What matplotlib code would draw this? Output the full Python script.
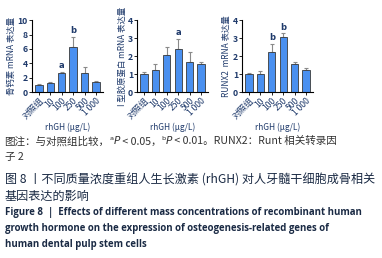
import matplotlib

matplotlib.use("Agg")
import matplotlib.pyplot as plt
from matplotlib.offsetbox import AnchoredOffsetbox, HPacker, TextArea

plt.rcParams["font.family"] = ["Noto Sans CJK SC", "DejaVu Sans"]

groups = ["对照组", "10", "100", "250", "500", "1 000"]

ocn_mean = [1.0, 1.2, 2.7, 6.2, 2.6, 1.4]
ocn_err = [0.1, 0.25, 0.15, 1.5, 0.9, 0.1]
ocn_sig = ["", "", "a", "b", "", ""]

col1_mean = [1.0, 1.25, 2.05, 2.37, 1.7, 1.55]
col1_err = [0.12, 0.3, 0.48, 0.6, 0.55, 0.1]
col1_sig = ["", "", "", "a", "", ""]

runx2_mean = [1.0, 1.0, 2.25, 3.07, 1.55, 1.22]
runx2_err = [0.08, 0.2, 0.45, 0.2, 0.13, 0.1]
runx2_sig = ["", "", "b", "b", "", ""]

panels = [
    ("骨钙素 mRNA 表达量", ocn_mean, ocn_err, ocn_sig, 10, [0, 2, 4, 6, 8, 10], 0.084),
    ("I 型胶原蛋白 mRNA 表达量", col1_mean, col1_err, col1_sig, 4, [0, 1, 2, 3, 4], 0.359),
    ("RUNX2  mRNA 表达量", runx2_mean, runx2_err, runx2_sig, 4, [0, 1, 2, 3, 4], 0.634),
]

BAR = "#4a90f0"
EDGE = "#3a3a3a"
ERR = "#8a8a8a"
INK = "#1f3a6b"

fig = plt.figure(figsize=(3.82, 2.58), dpi=100)

for ylabel, mean, err, sig, ymax, ticks, left in panels:
    ax = fig.add_axes([left, 0.643, 0.185, 0.279])
    x = list(range(len(groups)))
    ax.bar(x, mean, width=0.64, color=BAR, edgecolor=EDGE, linewidth=0.6, zorder=2)
    ax.errorbar(x, mean, yerr=[[0] * len(err), err], fmt="none", ecolor=ERR,
                elinewidth=0.8, capsize=1.5, capthick=0.8, zorder=1)
    for xi, m, e, s in zip(x, mean, err, sig):
        if s:
            ax.text(xi, m + e + ymax * 0.02, s, ha="center", va="bottom",
                    fontsize=6, fontweight="bold", color=INK,
                    family="DejaVu Sans")
    ax.set_xlim(-0.6, len(groups) - 0.4)
    ax.set_ylim(0, ymax)
    ax.set_yticks(ticks)
    ax.set_xticks(x)
    ax.set_xticklabels(groups, rotation=45, ha="right", rotation_mode="anchor",
                       fontsize=6.2, color=INK)
    ax.tick_params(axis="y", labelsize=6.3, length=2, width=0.6, pad=1, labelcolor=INK)
    ax.tick_params(axis="x", length=2, width=0.6, pad=1)
    for lab in ax.get_yticklabels():
        lab.set_fontweight("bold")
    for side in ("top", "right"):
        ax.spines[side].set_visible(False)
    for side in ("left", "bottom"):
        ax.spines[side].set_linewidth(0.8)
    ax.set_ylabel(ylabel, fontsize=6, labelpad=1, color=INK)
    ax.set_xlabel("rhGH (μg/L)", fontsize=6, color=INK, va="center")
    ax.xaxis.set_label_coords(0.5, -0.49)

# caption: note line with superscripts and italic P
FS = 7.6
cap = dict(fontsize=FS, color="#333333")
sup = dict(fontsize=FS, color="#333333", family="DejaVu Sans")
ital = dict(fontsize=FS, color="#333333", family="DejaVu Sans", style="italic")
pieces = [
    TextArea("图注：与对照组比较，", textprops=cap),
    TextArea("ᵃ", textprops=sup),
    TextArea("P", textprops=ital),
    TextArea(" < 0.05，", textprops=cap),
    TextArea("ᵇ", textprops=sup),
    TextArea("P", textprops=ital),
    TextArea(" < 0.01。RUNX2：Runt 相关转录因", textprops=cap),
]
box = HPacker(children=pieces, align="baseline", pad=0, sep=0)
anch = AnchoredOffsetbox(loc="upper left", child=box, pad=0, frameon=False,
                         bbox_to_anchor=(0.012, 1 - 136 / 258),
                         bbox_transform=fig.transFigure, borderpad=0)
fig.add_artist(anch)
fig.text(0.012, 1 - 157 / 258, "子 2", fontsize=FS, color="#333333", va="center")

fig.text(0.012, 1 - 180 / 258, "图 8 丨不同质量浓度重组人生长激素 (rhGH) 对人牙髓干细胞成骨相关",
         fontsize=8.7, color="#1a2a44", va="center")
fig.text(0.012, 1 - 196 / 258, "基因表达的影响", fontsize=8.7, color="#1a2a44", va="center")

eng = ["Figure 8  |  Effects of different mass concentrations of recombinant human",
       "growth hormone on the expression of osteogenesis-related genes of",
       "human dental pulp stem cells"]
for i, line in enumerate(eng):
    fig.text(0.012, 1 - (212 + 16 * i) / 258, line, fontsize=6.9, fontweight="bold",
             family="Open Sans", color="#1a2a44", va="center")

fig.savefig("out.png", dpi=100)
